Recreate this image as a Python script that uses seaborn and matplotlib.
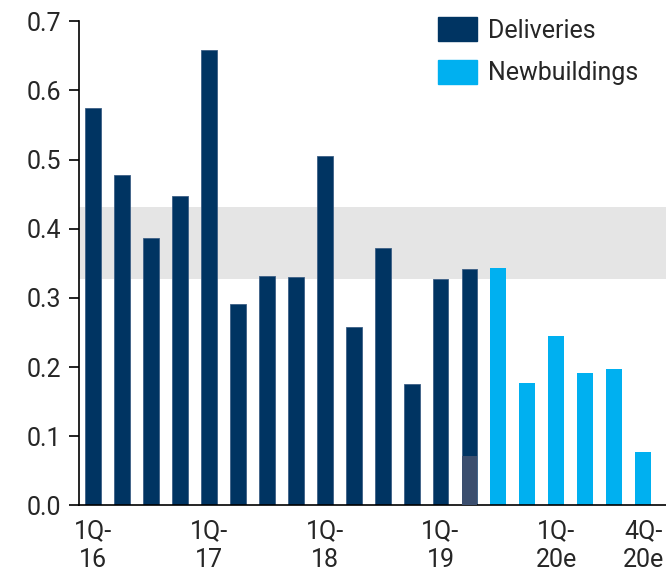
import matplotlib
matplotlib.use("Agg")
import matplotlib.pyplot as plt
import pandas as pd
import seaborn as sns
from matplotlib.patches import Patch

# quarterly data
quarters = ['1Q-16', '2Q-16', '3Q-16', '4Q-16',
            '1Q-17', '2Q-17', '3Q-17', '4Q-17',
            '1Q-18', '2Q-18', '3Q-18', '4Q-18',
            '1Q-19', '2Q-19', '3Q-19', '4Q-19',
            '1Q-20e', '2Q-20e', '3Q-20e', '4Q-20e']
values = [0.574, 0.478, 0.387, 0.448, 0.658, 0.291, 0.332, 0.330,
          0.505, 0.258, 0.372, 0.175, 0.328, 0.342,
          0.343, 0.177, 0.245, 0.192, 0.197, 0.077]
series = ['Deliveries'] * 14 + ['Newbuildings'] * 6
# small overlay segment at the bottom of 2Q-19
overlay_q = ['2Q-19']
overlay_v = [0.072]
band_low, band_high = 0.327, 0.431
shown_ticks = ['1Q-16', '1Q-17', '1Q-18', '1Q-19', '1Q-20e', '4Q-20e']

dark = '#003462'
light = '#00b0f0'

df = pd.DataFrame({'quarter': quarters, 'value': values, 'series': series})
df_ov = pd.DataFrame({'quarter': overlay_q, 'value': overlay_v})

sns.set_style('ticks')
plt.rcParams['font.family'] = ['Roboto', 'DejaVu Sans']

fig = plt.figure(figsize=(6.66, 5.75), dpi=100)
ax = fig.add_axes([0.1186, 0.121, 0.8814, 0.842])

ax.axhspan(band_low, band_high, color='#e5e5e5', zorder=0, lw=0)

sns.barplot(data=df, x='quarter', y='value', hue='series', order=quarters,
            palette={'Deliveries': dark, 'Newbuildings': light},
            dodge=False, width=0.55, saturation=1, ax=ax, zorder=2,
            legend=False, linewidth=0)
sns.barplot(data=df_ov, x='quarter', y='value', order=quarters,
            color='#3b4e6e', width=0.55, saturation=1, ax=ax, zorder=3,
            linewidth=0)

# thin lighter edge on the dark bars
for p in ax.patches:
    if p.get_facecolor()[:3] == matplotlib.colors.to_rgb(dark):
        p.set_edgecolor('#3d5f86')
        p.set_linewidth(0.6)

ax.set_xlim(-0.49, 19.79)
ax.set_ylim(0, 0.7)
ax.set_yticks([0.0, 0.1, 0.2, 0.3, 0.4, 0.5, 0.6, 0.7])
ax.set_yticklabels([f'{v:.1f}' for v in ax.get_yticks()])
pos = [quarters.index(q) for q in shown_ticks]
ax.set_xticks(pos)
ax.set_xticklabels([q.replace('-', '-\n') for q in shown_ticks], linespacing=1.25)
ax.tick_params(axis='y', labelsize=18, length=7, width=1.2, color='black', pad=6)
ax.tick_params(axis='x', labelsize=18, length=0, pad=10)
ax.set_xlabel('')
ax.set_ylabel('')
for s in ['top', 'right']:
    ax.spines[s].set_visible(False)
for s in ['left', 'bottom']:
    ax.spines[s].set_color('black')
    ax.spines[s].set_linewidth(1.2)

handles = [Patch(color=dark), Patch(color=light)]
fig.legend(handles, ['Deliveries', 'Newbuildings'], loc='upper left',
           bbox_to_anchor=(438 / 666, 1 - 17 / 575), frameon=False, fontsize=18,
           handlelength=1.55, handleheight=1.1, handletextpad=0.45,
           labelspacing=0.68, borderpad=0, borderaxespad=0)

fig.savefig('out.png', dpi=100)
